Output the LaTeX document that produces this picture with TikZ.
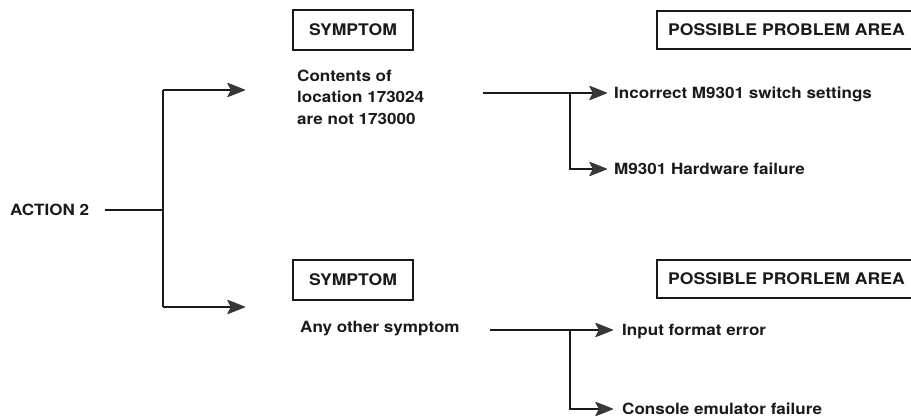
\documentclass[tikz,border=0pt]{standalone}
\usepackage{fontspec}
\setmainfont{TeX Gyre Heros}
\newfontfamily\dfont[FakeStretch=1.1]{TeX Gyre Heros}
\usetikzlibrary{arrows.meta}
\definecolor{ink}{HTML}{1A1A1A}
\definecolor{tip}{HTML}{383838}
\tikzset{
  wire/.style={line width=1.9pt, draw=ink},
  arr/.style={wire, -{Stealth[length=19pt, width=15pt, inset=4pt, color=tip, fill=tip, line width=1pt, round]}},
  hbox/.style={draw=ink, line width=1.4pt},
  txt/.style={anchor=base west, inner sep=0pt, font=\dfont\fontsize{15.5}{21.5}\selectfont\bfseries, text=ink},
  htxt/.style={anchor=base west, inner sep=0pt, font=\dfont\fontsize{16}{20}\selectfont\bfseries, text=ink},
}
\begin{document}
\begin{tikzpicture}[x=1pt, y=-1pt]
\useasboundingbox (0,0) rectangle (911,419);
% left
\node[txt] (act) at (10,216) {ACTION 2};
\coordinate (j) at (163,210);
\coordinate (t1) at (163,90);
\coordinate (t2) at (163,307);
\coordinate (a1) at (245,90);
\coordinate (a2) at (245,307);
\draw[wire] (105,210) -- (j);
\draw[wire] (t1) -- (t2);
\draw[arr] (t1) -- (a1);
\draw[arr] (t2) -- (a2);
% top symptom
\node[hbox, minimum width=120pt, minimum height=40pt, inner sep=0pt] (s1) at (353,30) {};
\node[htxt, anchor=base] (s1t) at (353,36) {SYMPTOM};
\node[txt, align=left, anchor=north west] (c1) at (297,69.5) {Contents of\\location 173024\\are not 173000};
\coordinate (l1) at (483,93);
\coordinate (b1) at (570,93);
\node[txt] (p1) at (614,99) {Incorrect M9301 switch settings};
\node[txt] (p2) at (614,175) {M9301 Hardware failure};
\coordinate (e1) at (607,93);
\coordinate (e2) at (607,169);
\draw[wire] (l1) -- (b1);
\draw[arr] (b1) -- (e1);
\draw[arr] (b1) |- (e2);
% top problem area header (cut at right edge)
\node[htxt] (h1) at (668,36) {POSSIBLE PROBLEM AREA};
\draw[hbox] (915,11) -- (657,11) -- (657,49) -- (915,49);
% bottom symptom
\node[hbox, minimum width=120pt, minimum height=40pt, inner sep=0pt] (s2) at (353,280) {};
\node[htxt, anchor=base] (s2t) at (353,286) {SYMPTOM};
\node[txt] (c2) at (300,333) {Any other symptom};
\coordinate (l2) at (490,330);
\coordinate (b2) at (570,330);
\node[txt] (p3) at (622,336) {Input format error};
\node[txt] (p4) at (622,415) {Console emulator failure};
\coordinate (e3) at (613,330);
\coordinate (e4) at (613,409);
\draw[wire] (l2) -- (b2);
\draw[arr] (b2) -- (e3);
\draw[arr] (b2) |- (e4);
\node[htxt] (h2) at (668,285) {POSSIBLE PRORLEM AREA};
\draw[hbox] (915,260) -- (657,260) -- (657,298) -- (915,298);
\end{tikzpicture}
\end{document}
